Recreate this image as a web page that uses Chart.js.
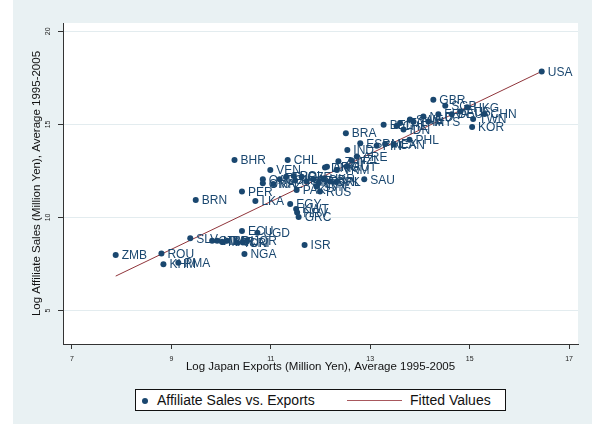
<!DOCTYPE html>
<html>
<head>
<meta charset="utf-8">
<script src="https://cdn.jsdelivr.net/npm/chart.js@4/dist/chart.umd.min.js"></script>
<style>
    body { margin: 0; background: #fff; }
    #wrap { position: relative; width: 592px; height: 424px; }
    #legend {
        position: absolute; left: 135px; top: 389px; width: 369px; height: 20px;
        border: 1px solid #111; background: #fff;
        font-family: 'Liberation Sans', Arial, sans-serif; font-size: 14px; color: #111;
    }
    #legend .dot { position: absolute; left: 6px; top: 8px; width: 6px; height: 6px; border-radius: 50%; background: #1a476f; }
    #legend .line { position: absolute; left: 211px; top: 10px; width: 55px; height: 1px; background: #a8585d; }
    #legend .txt { position: absolute; top: 2px; white-space: nowrap; }
</style>
</head>
<body>
<div id="wrap">
    <canvas id="chart" width="592" height="424"></canvas>
    <div id="legend">
        <span class="dot"></span><span class="txt" style="left: 21px">Affiliate Sales vs. Exports</span>
        <span class="line"></span><span class="txt" style="left: 274px">Fitted Values</span>
    </div>
</div>
<script>
// Country codes, log exports (x), log affiliate sales (y)
const countries = ['USA', 'GBR', 'SGP', 'HKG', 'CHN', 'TWN', 'KOR', 'AUS', 'DEU', 'FRA',
    'MYS', 'NLD', 'THA', 'SWE', 'ITA', 'CHE', 'BEL', 'IDN', 'PHL', 'CAN',
    'MEX', 'FIN', 'ESP', 'BRA', 'IND', 'ARE', 'NZL', 'ZAF', 'ARG', 'DNK',
    'VNM', 'AUT', 'SAU', 'CHL', 'BHR', 'VEN', 'QAT', 'OMN', 'KAZ', 'COL',
    'TUR', 'POL', 'HUN', 'CZE', 'PRT', 'NOR', 'IRN', 'UKR', 'IRL', 'SVK',
    'SVN', 'PAK', 'RUS', 'PER', 'BRN', 'LKA', 'EGY', 'KWT', 'HRV', 'GRC',
    'ECU', 'UGD', 'SLV', 'GTM', 'HND', 'MAR', 'BOL', 'TUN', 'CRI', 'JOR',
    'ISR', 'NGA', 'ZMB', 'ROU', 'KHM', 'PMA'];
const exportsLog = [16.45, 14.27, 14.51, 14.95, 15.30, 15.07, 15.05, 14.81, 14.64, 14.37,
    14.17, 14.07, 13.87, 13.80, 13.60, 13.53, 13.27, 13.67, 13.79, 13.47,
    13.30, 13.13, 12.80, 12.51, 12.54, 12.73, 12.62, 12.36, 12.13, 12.09,
    12.33, 12.53, 12.88, 11.34, 10.27, 10.99, 10.84, 10.84, 11.05, 11.18,
    11.31, 11.46, 11.49, 11.62, 11.72, 11.86, 11.96, 12.06, 12.31, 12.19,
    11.92, 11.52, 11.99, 10.42, 9.49, 10.69, 11.39, 11.51, 11.53, 11.56,
    10.42, 10.73, 9.38, 9.82, 9.92, 10.02, 10.12, 10.32, 10.44, 10.52,
    11.68, 10.47, 7.88, 8.80, 8.84, 9.14];
const salesLog = [17.85, 16.32, 16.00, 15.92, 15.56, 15.29, 14.86, 15.69, 15.55, 15.55,
    15.16, 15.42, 15.15, 15.26, 15.07, 14.92, 14.98, 14.73, 14.17, 13.92,
    13.95, 13.85, 13.99, 14.53, 13.63, 13.27, 13.08, 13.02, 12.73, 12.68,
    12.55, 12.75, 12.05, 13.09, 13.09, 12.55, 12.05, 11.84, 11.80, 12.05,
    12.19, 12.23, 11.98, 12.19, 11.93, 12.05, 11.84, 12.10, 11.90, 11.93,
    11.66, 11.48, 11.39, 11.39, 10.94, 10.88, 10.72, 10.45, 10.27, 10.02,
    9.27, 9.18, 8.88, 8.75, 8.75, 8.70, 8.75, 8.64, 8.66, 8.75,
    8.52, 8.03, 7.98, 8.07, 7.49, 7.57];

// Fitted line end points
const fitX = [7.88, 16.45];
const fitY = [6.85, 17.85];

const xTicks = [7, 9, 11, 13, 15, 17];
const yTicks = [5, 10, 15, 20];

const FONT = "'Liberation Sans', Arial, sans-serif";
const NAVY = '#1a476f';

// Background: bluish graph region, white plot region
const backgroundPlugin = {
    id: 'bg',
    beforeDraw(chart) {
        const ctx = chart.ctx;
        const a = chart.chartArea;
        ctx.save();
        ctx.fillStyle = '#e9f1f3';
        ctx.fillRect(13, 0, chart.width - 13, chart.height);
        ctx.fillStyle = '#fff';
        ctx.fillRect(a.left, a.top, a.right - a.left, a.bottom - a.top);
        ctx.restore();
    }
};

// Country code next to each marker
const pointLabels = {
    id: 'pointLabels',
    afterDatasetsDraw(chart) {
        const ctx = chart.ctx;
        const meta = chart.getDatasetMeta(0);
        ctx.save();
        ctx.font = '12px ' + FONT;
        ctx.fillStyle = NAVY;
        ctx.textBaseline = 'middle';
        meta.data.forEach((pt, i) => {
            ctx.fillText(countries[i], pt.x + 6, pt.y + 1);
        });
        ctx.restore();
    }
};

const points = exportsLog.map((x, i) => ({ x: x, y: salesLog[i] }));
const fitted = fitX.map((x, i) => ({ x: x, y: fitY[i] }));

new Chart(document.getElementById('chart'), {
    type: 'scatter',
    data: {
        datasets: [{
            label: 'Affiliate Sales vs. Exports',
            data: points,
            backgroundColor: NAVY,
            borderWidth: 0,
            pointRadius: 3,
            order: 1
        }, {
            label: 'Fitted Values',
            data: fitted,
            showLine: true,
            borderColor: '#90353b',
            borderWidth: 1,
            pointRadius: 0,
            order: 2
        }]
    },
    options: {
        responsive: false,
        animation: false,
        layout: { padding: { left: 24, top: 23, right: 14, bottom: 50 } },
        plugins: { legend: { display: false }, tooltip: { enabled: false } },
        scales: {
            x: {
                type: 'linear',
                min: 6.82,
                max: 17.18,
                afterBuildTicks: s => { s.ticks = xTicks.map(v => ({ value: v })); },
                afterFit: s => { s.height = 30; },
                grid: { drawOnChartArea: false, tickLength: 5, tickColor: '#333' },
                border: { color: '#333' },
                ticks: { font: { family: FONT, size: 7 }, color: '#222', padding: 6, maxRotation: 0 },
                title: {
                    display: true,
                    text: 'Log Japan Exports (Million Yen), Average 1995-2005',
                    font: { family: FONT, size: 11.5 },
                    color: '#111',
                    padding: { top: 0, bottom: 0 }
                }
            },
            y: {
                min: 3.2,
                max: 20.45,
                afterBuildTicks: s => { s.ticks = yTicks.map(v => ({ value: v })); },
                afterFit: s => { s.width = 39; },
                grid: { color: '#e3ecef', tickLength: 5, tickColor: '#333' },
                border: { color: '#333' },
                ticks: {
                    font: { family: FONT, size: 7 }, color: '#222', padding: 6,
                    minRotation: 90, maxRotation: 90, crossAlign: 'center'
                },
                title: {
                    display: true,
                    text: 'Log Affiliate Sales (Million Yen), Average 1995-2005',
                    font: { family: FONT, size: 11.5 },
                    color: '#111',
                    padding: { top: 6, bottom: 0 }
                }
            }
        }
    },
    plugins: [backgroundPlugin, pointLabels]
});
</script>
</body>
</html>
